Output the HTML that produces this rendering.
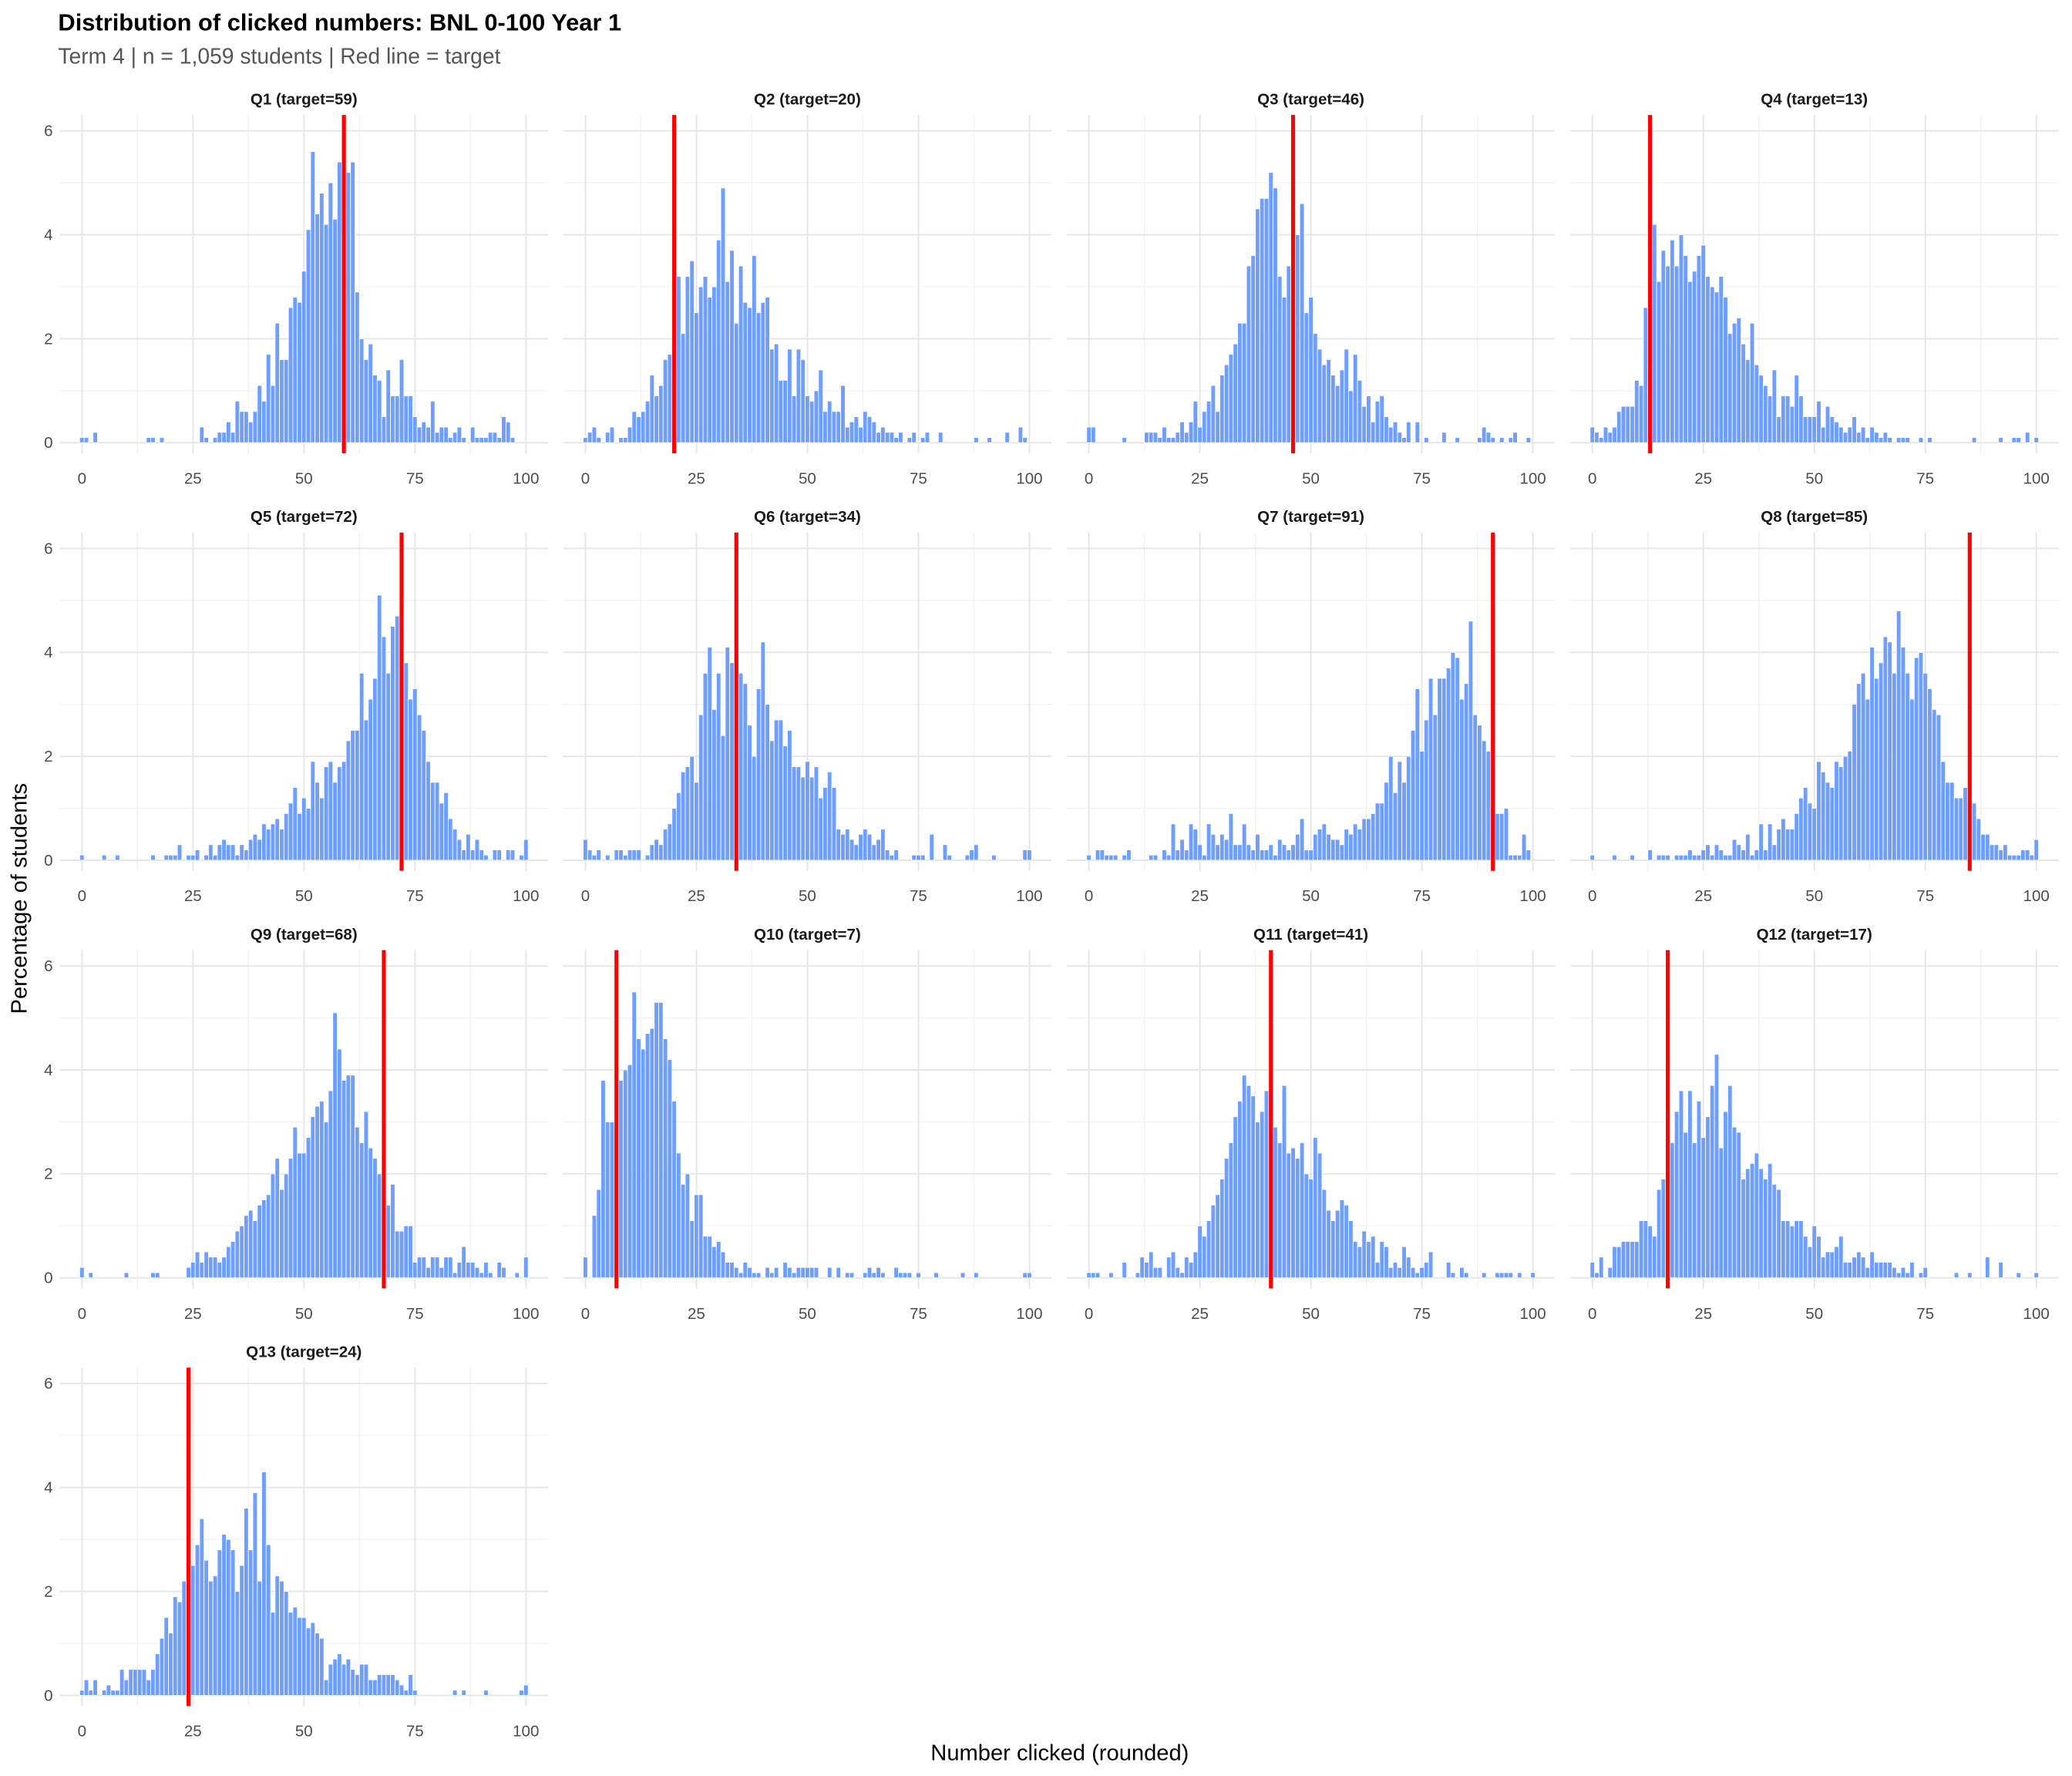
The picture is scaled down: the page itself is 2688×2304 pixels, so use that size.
<!DOCTYPE html>
<html><head><meta charset="utf-8">
<style>
html,body{margin:0;padding:0;background:#fff;}
svg{display:block;font-family:"Liberation Sans",Arial,sans-serif;}
</style></head>
<body>
<svg id="chart" width="2688" height="2304" viewBox="0 0 1568 1344" xmlns="http://www.w3.org/2000/svg">
<rect width="1568" height="1344" fill="#fff"/>
<text x="44" y="23" font-size="18" font-weight="bold" fill="#000">Distribution of clicked numbers: BNL 0-100 Year 1</text>
<text x="44" y="48" font-size="16.5" fill="#555">Term 4 | n = 1,059 students | Red line = target</text>
<text transform="translate(20,680) rotate(-90)" text-anchor="middle" font-size="17" fill="#000">Percentage of students</text>
<text x="802" y="1332" text-anchor="middle" font-size="17" fill="#000">Number clicked (rounded)</text>
<g id="panels"></g>
</svg>
<script>
const questions = ["Q1","Q2","Q3","Q4","Q5","Q6","Q7","Q8","Q9","Q10","Q11","Q12","Q13"];
const targets = [59,20,46,13,72,34,91,85,68,7,41,17,24];
const xTicks = [0,25,50,75,100];
const yTicks = [0,2,4,6];
const q1 = [0.1,0.1,0,0.2,0,0,0,0,0,0, 0,0,0,0,0,0.1,0.1,0,0.1,0, 0,0,0,0,0,0,0,0.3,0.1,0, 0.1,0.2,0.2,0.4,0.2,0.8,0.6,0.6,0.4,0.6, 1.1,0.8,1.7,1.1,2.3,1.6,1.6,2.6,2.8,2.7, 3.3,4.1,5.6,4.4,4.8,4.2,5.0,4.3,5.4,4.0, 5.2,5.4,2.9,2.0,1.6,1.9,1.3,1.2,0.5,1.4, 0.9,0.9,1.6,0.9,0.9,0.5,0.3,0.4,0.3,0.8, 0.2,0.3,0.3,0.1,0.2,0.3,0.1,0,0.3,0.1, 0.1,0.1,0.2,0.2,0.1,0.5,0.4,0.1,0,0,0];
const q2 = [0.1,0.2,0.3,0.1,0,0.2,0.3,0,0.1,0.1, 0.3,0.6,0.5,0.6,0.8,1.3,0.9,1.1,1.6,1.7, 1.9,3.2,2.1,3.2,3.5,2.5,3.0,3.2,2.8,3.0, 3.9,4.9,3.1,3.7,2.3,3.4,2.7,2.6,3.6,2.5, 2.7,2.8,1.8,1.9,1.2,1.2,1.8,0.9,1.8,1.6, 0.9,0.8,1.0,1.4,0.6,0.8,0.6,0.6,1.1,0.3, 0.4,0.5,0.3,0.6,0.5,0.4,0.2,0.3,0.2,0.2, 0.1,0.2,0,0.1,0.2,0,0.1,0.2,0,0, 0.2,0,0,0,0,0,0,0,0.1,0, 0,0.1,0,0,0,0.2,0,0,0.3,0.1,0];
const q3 = [0.3,0.3,0,0,0,0,0,0,0.1,0, 0,0,0,0.2,0.2,0.2,0.1,0.3,0.1,0.1, 0.2,0.4,0.2,0.4,0.8,0.3,0.6,0.8,1.1,0.6, 1.3,1.5,1.7,1.9,2.3,2.3,3.4,3.6,4.5,4.7, 4.7,5.2,4.9,3.2,2.8,3.4,4.4,4.0,4.6,2.5, 2.8,2.1,1.8,1.5,1.6,1.3,1.1,1.4,1.8,1.0, 1.7,1.2,0.7,0.9,0.4,0.8,0.9,0.5,0.3,0.4, 0.2,0.1,0.4,0,0.4,0,0.1,0,0,0, 0.2,0,0,0.1,0,0,0,0,0.1,0.3, 0.2,0.1,0,0.1,0,0.1,0.2,0,0,0.1,0];
const q4 = [0.3,0.2,0.1,0.3,0.2,0.3,0.6,0.7,0.7,0.7, 1.2,1.1,2.6,1.5,4.2,3.1,3.7,3.4,3.9,3.4, 4.0,3.6,3.1,3.3,3.6,3.8,3.2,3.0,2.9,3.2, 2.8,2.1,2.3,2.4,1.9,1.6,2.3,1.5,1.3,1.1, 0.9,1.4,0.5,0.9,0.9,0.7,1.3,0.9,0.5,0.5, 0.5,0.8,0.3,0.7,0.5,0.4,0.3,0.2,0.3,0.5, 0.2,0.3,0.1,0.3,0.2,0.1,0.2,0.1,0,0.1, 0.1,0.1,0,0,0.1,0,0.1,0,0,0, 0,0,0,0,0,0,0.1,0,0,0, 0,0,0.1,0,0,0.1,0.1,0,0.2,0,0.1];
const q5 = [0.1,0,0,0,0,0.1,0,0,0.1,0, 0,0,0,0,0,0,0.1,0,0,0.1, 0.1,0.1,0.3,0,0.1,0.1,0.2,0,0.1,0.3, 0.1,0.3,0.4,0.3,0.3,0.1,0.3,0.2,0.4,0.5, 0.4,0.7,0.6,0.7,0.8,0.6,0.9,1.1,1.4,0.9, 1.2,1.0,1.9,1.5,1.2,1.8,1.9,1.5,1.8,1.9, 2.3,2.5,2.5,3.6,2.7,3.1,3.5,5.1,4.3,3.6, 4.5,4.7,5.7,3.8,3.1,3.3,2.8,2.5,1.9,1.5, 1.5,1.1,1.3,0.8,0.6,0.4,0.2,0.5,0.2,0.4, 0.2,0.1,0,0.2,0.2,0,0.2,0.2,0,0.1,0.4];
const q6 = [0.4,0.2,0.1,0.2,0,0.1,0,0.2,0.2,0.1, 0.2,0.2,0.2,0,0.1,0.3,0.4,0.3,0.6,0.7, 1.0,1.3,1.7,1.8,2.0,1.5,2.8,3.6,4.1,2.9, 3.6,2.4,4.1,3.8,4.1,3.6,3.4,2.6,2.0,3.3, 4.2,3.0,2.3,2.7,2.7,2.2,2.5,1.8,1.8,1.6, 1.9,1.6,1.8,1.2,1.4,1.7,1.4,0.6,0.5,0.6, 0.4,0.3,0.5,0.6,0.5,0.3,0.4,0.6,0.2,0.1, 0.2,0,0,0,0.1,0.1,0.1,0,0.5,0, 0,0.3,0.1,0,0,0,0.1,0.2,0.3,0, 0,0,0.1,0,0,0,0,0,0,0.2,0.2];
const q7 = [0.1,0,0.2,0.2,0.1,0.1,0.1,0,0.1,0.2, 0,0,0,0,0.1,0.1,0,0.2,0.1,0.7, 0.2,0.4,0.2,0.7,0.6,0.3,0.1,0.7,0.5,0.3, 0.5,0.4,0.9,0.3,0.3,0.7,0.3,0.2,0.5,0.2, 0.2,0.3,0.1,0.4,0.3,0.2,0.3,0.5,0.8,0.2, 0.2,0.5,0.6,0.7,0.5,0.4,0.4,0.3,0.6,0.5, 0.7,0.6,0.8,0.8,0.9,1.1,1.1,1.5,2.0,1.3, 1.9,1.5,2.0,2.5,3.3,2.1,2.7,3.5,2.8,3.5, 3.5,3.7,4.0,3.9,3.1,3.4,4.6,2.8,2.6,2.3, 2.1,1.0,0.9,0.9,1.0,0.1,0.1,0.1,0.5,0.2,0];
const q8 = [0.1,0,0,0,0,0.1,0,0,0,0.1, 0,0,0,0.2,0,0.1,0.1,0.1,0,0.1, 0.1,0.1,0.2,0.1,0.1,0.2,0.3,0.1,0.3,0.2, 0.1,0.1,0.4,0.3,0.2,0.5,0.1,0.2,0.7,0.2, 0.7,0.3,0.6,0.8,0.6,0.6,0.9,1.2,1.4,1.1, 1.0,1.9,1.7,1.5,1.4,1.9,1.8,2.0,2.1,3.0, 3.4,3.6,3.1,4.1,3.5,3.8,4.3,4.2,3.6,4.8, 4.1,3.6,3.1,3.9,4.0,3.6,3.3,2.9,2.8,1.9, 1.5,1.5,1.2,1.2,1.4,1.1,1.1,0.8,0.5,0.5, 0.3,0.3,0.2,0.3,0.1,0.1,0.1,0.2,0.2,0.1,0.4];
const q9 = [0.2,0,0.1,0,0,0,0,0,0,0, 0.1,0,0,0,0,0,0.1,0.1,0,0, 0,0,0,0,0.2,0.3,0.5,0.3,0.5,0.4, 0.4,0.3,0.4,0.6,0.7,0.9,1.0,1.2,1.3,1.1, 1.4,1.5,1.6,2.0,2.3,1.7,2.0,2.3,2.9,2.4, 2.4,2.7,3.1,3.3,3.4,3.0,3.6,5.1,4.4,3.8, 3.9,3.9,2.9,2.6,3.2,2.5,2.3,2.0,2.1,1.4, 1.8,0.9,0.9,1.0,1.0,0.3,0.4,0.4,0.2,0.4, 0.4,0.2,0.4,0.4,0.1,0.3,0.6,0.3,0.3,0.2, 0.1,0.3,0.1,0,0.3,0.2,0,0,0.1,0,0.4];
const q10 = [0.4,0,1.2,1.7,3.8,3.0,3.0,2.9,3.8,4.0, 4.1,5.5,4.6,4.4,4.7,4.8,5.3,5.3,4.6,4.2, 3.4,2.4,1.8,2.0,1.1,1.6,1.6,0.8,0.8,0.6, 0.7,0.5,0.3,0.3,0.2,0.1,0.3,0.2,0.1,0.1, 0,0.2,0.1,0.2,0,0.3,0.2,0.1,0.2,0.2, 0.2,0.2,0.2,0,0,0.2,0,0.2,0,0.1, 0.1,0,0,0.1,0.2,0.1,0.2,0.1,0,0, 0.2,0.1,0.1,0.1,0,0.1,0,0,0,0.1, 0,0,0,0,0,0.1,0,0,0.1,0, 0,0,0,0,0,0,0,0,0,0.1,0.1];
const q11 = [0.1,0.1,0.1,0,0,0.1,0,0,0.3,0, 0,0.1,0.4,0.3,0.5,0.2,0.2,0,0.4,0.5, 0.2,0.1,0.4,0.3,0.5,1.0,0.8,1.1,1.4,1.6, 1.9,2.3,2.6,3.1,3.4,3.9,3.7,3.5,3.0,3.2, 3.6,3.4,2.9,2.6,3.7,2.4,2.5,2.3,2.6,2.0, 1.9,2.7,2.4,1.7,1.3,1.1,1.3,1.5,1.4,1.1, 0.7,0.6,0.9,0.7,0.8,0.3,0.7,0.6,0.2,0.3, 0.2,0.6,0.4,0.2,0.1,0.2,0.3,0.5,0,0, 0,0.3,0.1,0,0.2,0.1,0,0,0,0.1, 0,0,0.1,0.1,0.1,0.1,0,0.1,0,0,0.1];
const q12 = [0.3,0.1,0.4,0,0.2,0.6,0.6,0.7,0.7,0.7, 0.7,1.1,1.1,1.0,0.8,1.7,1.9,3.2,2.6,3.2, 3.6,2.8,3.6,2.6,3.4,2.7,3.1,3.7,4.3,2.5, 3.2,3.7,2.9,2.8,1.9,2.1,2.2,2.4,2.1,1.9, 2.2,1.8,1.7,1.1,1.1,1.0,1.1,1.1,0.8,0.6, 1.0,0.8,0.4,0.5,0.5,0.6,0.8,0.3,0.3,0.4, 0.5,0.4,0.2,0.5,0.3,0.3,0.3,0.3,0.2,0.1, 0.2,0.1,0.3,0,0.1,0.2,0,0,0,0, 0,0,0.1,0,0,0.1,0,0,0,0.4, 0,0,0.3,0,0,0,0.1,0,0,0,0.1];
const q13 = [0.1,0.3,0.1,0.3,0,0.1,0.2,0.1,0.1,0.5, 0.3,0.5,0.5,0.5,0.5,0.3,0.5,0.8,1.1,1.5, 1.2,1.9,1.8,2.2,2.9,2.5,2.9,3.4,2.6,2.2, 2.3,2.8,3.1,3.0,2.8,2.0,2.5,3.6,2.8,3.9, 2.2,4.3,2.9,1.6,2.3,2.2,2.0,1.6,1.7,1.5, 1.5,1.3,1.4,1.2,1.1,0.3,0.6,0.7,0.8,0.6, 0.7,0.5,0.4,0.6,0.6,0.3,0.3,0.4,0.4,0.4, 0.4,0.3,0.2,0.1,0.4,0.1,0,0,0,0, 0,0,0,0,0.1,0,0.1,0,0,0, 0,0.1,0,0,0,0,0,0,0,0.1,0.2];
const seriesList = [q1,q2,q3,q4,q5,q6,q7,q8,q9,q10,q11,q12,q13];

const NS = "http://www.w3.org/2000/svg";
const root = document.getElementById("panels");
const colW = 381, rowH = 316;
const x0Base = 62, xScale = 3.36;
const y0Base = 335, yScale = 236/6;
const panelTop = 87, panelBottom = 343;
function mk(tag, attrs, parent){ const e=document.createElementNS(NS,tag); for(const k in attrs) e.setAttribute(k,attrs[k]); parent.appendChild(e); return e; }

questions.forEach((q, i) => {
  const col = i % 4, row = Math.floor(i / 4);
  const ox = col * colW, oy = row * rowH;
  const xs = v => x0Base + ox + v * xScale;
  const ys = v => y0Base + oy - v * yScale;
  const g = mk("g", {}, root);
  
  
  const left = xs(-5), right = xs(105), top = panelTop + oy, bottom = panelBottom + oy;
  [12.5,37.5,62.5,87.5].forEach(v => {
    const l = mk("line", {x1:xs(v),x2:xs(v),y1:top,y2:bottom,stroke:"#F2F2F2","stroke-width":0.8}, g);
    
    
  });
  [1,3,5].forEach(v => {
    const l = mk("line", {x1:left,x2:right,y1:ys(v),y2:ys(v),stroke:"#F2F2F2","stroke-width":0.8}, g);
    
    
  });
  xTicks.forEach(v => {
    const l = mk("line", {x1:xs(v),x2:xs(v),y1:top,y2:bottom,stroke:"#E5E5E5","stroke-width":1.1}, g);
    
    
    const t = mk("text", {x:xs(v),y:366+oy,"text-anchor":"middle","font-size":12,fill:"#4D4D4D"}, g);
    t.textContent = v;
    
    
  });
  yTicks.forEach(v => {
    const l = mk("line", {x1:left,x2:right,y1:ys(v),y2:ys(v),stroke:"#E5E5E5","stroke-width":1.1}, g);
    
    
    if (col === 0) {
      const t = mk("text", {x:40,y:ys(v)+4,"text-anchor":"end","font-size":12,fill:"#4D4D4D"}, g);
      t.textContent = v;
      
      
    }
  });
  const strip = mk("text", {x:(left+right)/2,y:79+oy,"text-anchor":"middle","font-size":12,"font-weight":"bold",fill:"#1A1A1A"}, g);
  strip.textContent = q + " (target=" + targets[i] + ")";
  
  
  const vals = seriesList[i];
  vals.forEach((v, k) => {
    if (v <= 0) return;
    const b = mk("rect", {x:xs(k-0.5),y:ys(v),width:xScale,height:ys(0)-ys(v),fill:"#6699FF","fill-opacity":0.95,stroke:"#fff","stroke-width":0.5}, g);
    
    
  });
  const tl = mk("line", {x1:xs(targets[i]),x2:xs(targets[i]),y1:top,y2:bottom,stroke:"#FF0000","stroke-width":3}, g);
  
  
});
</script>
</body></html>
